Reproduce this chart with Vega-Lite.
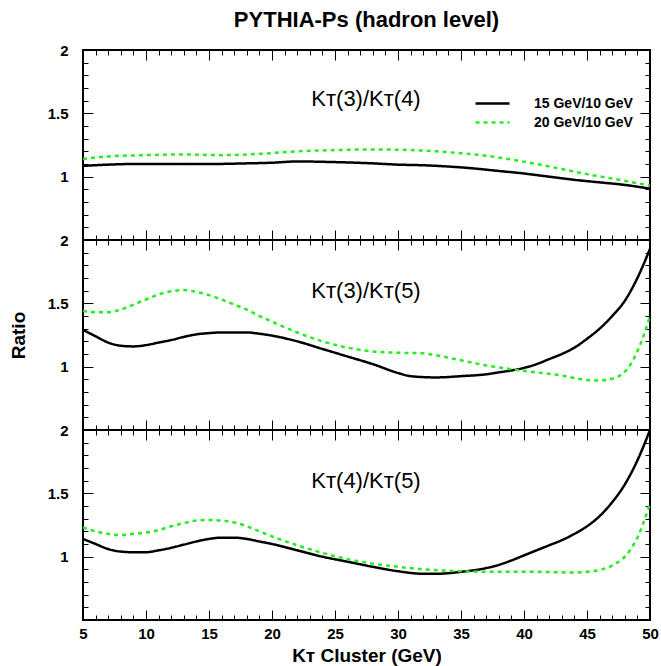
{
  "$schema": "https://vega.github.io/schema/vega-lite/v6.json",
  "padding": {"left": 8, "top": 9, "right": 5, "bottom": 0},
  "background": "white",
  "spacing": 0,
  "bounds": "flush",
  "title": {"text": "PYTHIA-Ps (hadron level)", "fontSize": 22, "font": "Liberation Sans", "fontWeight": "bold", "offset": 10, "anchor": "middle", "frame": "group", "color": "black"},
  "config": {
    "view": {"stroke": "black", "strokeWidth": 2},
    "axis": {"grid": false, "domain": false, "tickColor": "black", "tickWidth": 1, "labelFont": "Liberation Sans", "labelFontWeight": "bold", "labelFontSize": 15, "labelColor": "black", "titleFont": "Liberation Sans", "titleFontWeight": "bold", "titleFontSize": 19, "titleColor": "black", "labelFlush": false, "labelOverlap": false}
  },
  "datasets": {
    "curves": [
      {"panel": "p34", "series": "15 GeV/10 GeV", "x": 5, "y": 1.085},
      {"panel": "p34", "series": "15 GeV/10 GeV", "x": 7, "y": 1.095},
      {"panel": "p34", "series": "15 GeV/10 GeV", "x": 9, "y": 1.1},
      {"panel": "p34", "series": "15 GeV/10 GeV", "x": 12, "y": 1.1},
      {"panel": "p34", "series": "15 GeV/10 GeV", "x": 15, "y": 1.1},
      {"panel": "p34", "series": "15 GeV/10 GeV", "x": 18, "y": 1.105},
      {"panel": "p34", "series": "15 GeV/10 GeV", "x": 20, "y": 1.11},
      {"panel": "p34", "series": "15 GeV/10 GeV", "x": 22, "y": 1.12},
      {"panel": "p34", "series": "15 GeV/10 GeV", "x": 25, "y": 1.115},
      {"panel": "p34", "series": "15 GeV/10 GeV", "x": 28, "y": 1.105},
      {"panel": "p34", "series": "15 GeV/10 GeV", "x": 30, "y": 1.095},
      {"panel": "p34", "series": "15 GeV/10 GeV", "x": 32, "y": 1.09},
      {"panel": "p34", "series": "15 GeV/10 GeV", "x": 34, "y": 1.08},
      {"panel": "p34", "series": "15 GeV/10 GeV", "x": 36, "y": 1.065},
      {"panel": "p34", "series": "15 GeV/10 GeV", "x": 38, "y": 1.045},
      {"panel": "p34", "series": "15 GeV/10 GeV", "x": 40, "y": 1.025},
      {"panel": "p34", "series": "15 GeV/10 GeV", "x": 42, "y": 1.0},
      {"panel": "p34", "series": "15 GeV/10 GeV", "x": 44, "y": 0.975},
      {"panel": "p34", "series": "15 GeV/10 GeV", "x": 46, "y": 0.955},
      {"panel": "p34", "series": "15 GeV/10 GeV", "x": 48, "y": 0.935},
      {"panel": "p34", "series": "15 GeV/10 GeV", "x": 50, "y": 0.905},
      {"panel": "p34", "series": "20 GeV/10 GeV", "x": 5, "y": 1.14},
      {"panel": "p34", "series": "20 GeV/10 GeV", "x": 7, "y": 1.16},
      {"panel": "p34", "series": "20 GeV/10 GeV", "x": 10, "y": 1.17},
      {"panel": "p34", "series": "20 GeV/10 GeV", "x": 13, "y": 1.175},
      {"panel": "p34", "series": "20 GeV/10 GeV", "x": 16, "y": 1.17},
      {"panel": "p34", "series": "20 GeV/10 GeV", "x": 19, "y": 1.18},
      {"panel": "p34", "series": "20 GeV/10 GeV", "x": 22, "y": 1.2},
      {"panel": "p34", "series": "20 GeV/10 GeV", "x": 25, "y": 1.21},
      {"panel": "p34", "series": "20 GeV/10 GeV", "x": 28, "y": 1.215},
      {"panel": "p34", "series": "20 GeV/10 GeV", "x": 31, "y": 1.21},
      {"panel": "p34", "series": "20 GeV/10 GeV", "x": 33, "y": 1.2},
      {"panel": "p34", "series": "20 GeV/10 GeV", "x": 35, "y": 1.185},
      {"panel": "p34", "series": "20 GeV/10 GeV", "x": 37, "y": 1.165},
      {"panel": "p34", "series": "20 GeV/10 GeV", "x": 39, "y": 1.135},
      {"panel": "p34", "series": "20 GeV/10 GeV", "x": 41, "y": 1.1},
      {"panel": "p34", "series": "20 GeV/10 GeV", "x": 43, "y": 1.06},
      {"panel": "p34", "series": "20 GeV/10 GeV", "x": 45, "y": 1.02},
      {"panel": "p34", "series": "20 GeV/10 GeV", "x": 47, "y": 0.985},
      {"panel": "p34", "series": "20 GeV/10 GeV", "x": 50, "y": 0.93},
      {"panel": "p35", "series": "15 GeV/10 GeV", "x": 5, "y": 1.29},
      {"panel": "p35", "series": "15 GeV/10 GeV", "x": 6, "y": 1.24},
      {"panel": "p35", "series": "15 GeV/10 GeV", "x": 7, "y": 1.19},
      {"panel": "p35", "series": "15 GeV/10 GeV", "x": 8, "y": 1.165},
      {"panel": "p35", "series": "15 GeV/10 GeV", "x": 9, "y": 1.16},
      {"panel": "p35", "series": "15 GeV/10 GeV", "x": 10, "y": 1.17},
      {"panel": "p35", "series": "15 GeV/10 GeV", "x": 11, "y": 1.19},
      {"panel": "p35", "series": "15 GeV/10 GeV", "x": 12, "y": 1.21},
      {"panel": "p35", "series": "15 GeV/10 GeV", "x": 13, "y": 1.235},
      {"panel": "p35", "series": "15 GeV/10 GeV", "x": 14, "y": 1.255},
      {"panel": "p35", "series": "15 GeV/10 GeV", "x": 15, "y": 1.265},
      {"panel": "p35", "series": "15 GeV/10 GeV", "x": 16, "y": 1.27},
      {"panel": "p35", "series": "15 GeV/10 GeV", "x": 18, "y": 1.27},
      {"panel": "p35", "series": "15 GeV/10 GeV", "x": 19, "y": 1.26},
      {"panel": "p35", "series": "15 GeV/10 GeV", "x": 20, "y": 1.245},
      {"panel": "p35", "series": "15 GeV/10 GeV", "x": 22, "y": 1.2},
      {"panel": "p35", "series": "15 GeV/10 GeV", "x": 24, "y": 1.14},
      {"panel": "p35", "series": "15 GeV/10 GeV", "x": 26, "y": 1.08},
      {"panel": "p35", "series": "15 GeV/10 GeV", "x": 28, "y": 1.02},
      {"panel": "p35", "series": "15 GeV/10 GeV", "x": 30, "y": 0.95},
      {"panel": "p35", "series": "15 GeV/10 GeV", "x": 31, "y": 0.925},
      {"panel": "p35", "series": "15 GeV/10 GeV", "x": 33, "y": 0.915},
      {"panel": "p35", "series": "15 GeV/10 GeV", "x": 35, "y": 0.925},
      {"panel": "p35", "series": "15 GeV/10 GeV", "x": 37, "y": 0.94},
      {"panel": "p35", "series": "15 GeV/10 GeV", "x": 38, "y": 0.955},
      {"panel": "p35", "series": "15 GeV/10 GeV", "x": 39, "y": 0.97},
      {"panel": "p35", "series": "15 GeV/10 GeV", "x": 40, "y": 0.99},
      {"panel": "p35", "series": "15 GeV/10 GeV", "x": 41, "y": 1.02},
      {"panel": "p35", "series": "15 GeV/10 GeV", "x": 42, "y": 1.06},
      {"panel": "p35", "series": "15 GeV/10 GeV", "x": 43, "y": 1.1},
      {"panel": "p35", "series": "15 GeV/10 GeV", "x": 44, "y": 1.15},
      {"panel": "p35", "series": "15 GeV/10 GeV", "x": 45, "y": 1.22},
      {"panel": "p35", "series": "15 GeV/10 GeV", "x": 46, "y": 1.3},
      {"panel": "p35", "series": "15 GeV/10 GeV", "x": 47, "y": 1.4},
      {"panel": "p35", "series": "15 GeV/10 GeV", "x": 48, "y": 1.52},
      {"panel": "p35", "series": "15 GeV/10 GeV", "x": 49, "y": 1.7},
      {"panel": "p35", "series": "15 GeV/10 GeV", "x": 50, "y": 1.93},
      {"panel": "p35", "series": "20 GeV/10 GeV", "x": 5, "y": 1.44},
      {"panel": "p35", "series": "20 GeV/10 GeV", "x": 6, "y": 1.43},
      {"panel": "p35", "series": "20 GeV/10 GeV", "x": 7, "y": 1.43},
      {"panel": "p35", "series": "20 GeV/10 GeV", "x": 8, "y": 1.45},
      {"panel": "p35", "series": "20 GeV/10 GeV", "x": 9, "y": 1.49},
      {"panel": "p35", "series": "20 GeV/10 GeV", "x": 10, "y": 1.53},
      {"panel": "p35", "series": "20 GeV/10 GeV", "x": 11, "y": 1.57},
      {"panel": "p35", "series": "20 GeV/10 GeV", "x": 12, "y": 1.595},
      {"panel": "p35", "series": "20 GeV/10 GeV", "x": 13, "y": 1.605},
      {"panel": "p35", "series": "20 GeV/10 GeV", "x": 14, "y": 1.59},
      {"panel": "p35", "series": "20 GeV/10 GeV", "x": 15, "y": 1.565},
      {"panel": "p35", "series": "20 GeV/10 GeV", "x": 16, "y": 1.53},
      {"panel": "p35", "series": "20 GeV/10 GeV", "x": 17, "y": 1.49},
      {"panel": "p35", "series": "20 GeV/10 GeV", "x": 18, "y": 1.45},
      {"panel": "p35", "series": "20 GeV/10 GeV", "x": 19, "y": 1.4},
      {"panel": "p35", "series": "20 GeV/10 GeV", "x": 20, "y": 1.355},
      {"panel": "p35", "series": "20 GeV/10 GeV", "x": 22, "y": 1.27},
      {"panel": "p35", "series": "20 GeV/10 GeV", "x": 24, "y": 1.2},
      {"panel": "p35", "series": "20 GeV/10 GeV", "x": 26, "y": 1.15},
      {"panel": "p35", "series": "20 GeV/10 GeV", "x": 28, "y": 1.12},
      {"panel": "p35", "series": "20 GeV/10 GeV", "x": 30, "y": 1.11},
      {"panel": "p35", "series": "20 GeV/10 GeV", "x": 32, "y": 1.105},
      {"panel": "p35", "series": "20 GeV/10 GeV", "x": 33, "y": 1.09},
      {"panel": "p35", "series": "20 GeV/10 GeV", "x": 35, "y": 1.05},
      {"panel": "p35", "series": "20 GeV/10 GeV", "x": 37, "y": 1.01},
      {"panel": "p35", "series": "20 GeV/10 GeV", "x": 39, "y": 0.98},
      {"panel": "p35", "series": "20 GeV/10 GeV", "x": 41, "y": 0.955},
      {"panel": "p35", "series": "20 GeV/10 GeV", "x": 43, "y": 0.93},
      {"panel": "p35", "series": "20 GeV/10 GeV", "x": 44, "y": 0.91},
      {"panel": "p35", "series": "20 GeV/10 GeV", "x": 45, "y": 0.895},
      {"panel": "p35", "series": "20 GeV/10 GeV", "x": 46, "y": 0.89},
      {"panel": "p35", "series": "20 GeV/10 GeV", "x": 47, "y": 0.905},
      {"panel": "p35", "series": "20 GeV/10 GeV", "x": 48, "y": 0.96},
      {"panel": "p35", "series": "20 GeV/10 GeV", "x": 49, "y": 1.12},
      {"panel": "p35", "series": "20 GeV/10 GeV", "x": 50, "y": 1.4},
      {"panel": "p45", "series": "15 GeV/10 GeV", "x": 5, "y": 1.14},
      {"panel": "p45", "series": "15 GeV/10 GeV", "x": 6, "y": 1.1},
      {"panel": "p45", "series": "15 GeV/10 GeV", "x": 7, "y": 1.06},
      {"panel": "p45", "series": "15 GeV/10 GeV", "x": 8, "y": 1.04},
      {"panel": "p45", "series": "15 GeV/10 GeV", "x": 9, "y": 1.035},
      {"panel": "p45", "series": "15 GeV/10 GeV", "x": 10, "y": 1.035},
      {"panel": "p45", "series": "15 GeV/10 GeV", "x": 11, "y": 1.05},
      {"panel": "p45", "series": "15 GeV/10 GeV", "x": 12, "y": 1.07},
      {"panel": "p45", "series": "15 GeV/10 GeV", "x": 13, "y": 1.095},
      {"panel": "p45", "series": "15 GeV/10 GeV", "x": 14, "y": 1.12},
      {"panel": "p45", "series": "15 GeV/10 GeV", "x": 15, "y": 1.14},
      {"panel": "p45", "series": "15 GeV/10 GeV", "x": 16, "y": 1.15},
      {"panel": "p45", "series": "15 GeV/10 GeV", "x": 17, "y": 1.15},
      {"panel": "p45", "series": "15 GeV/10 GeV", "x": 18, "y": 1.14},
      {"panel": "p45", "series": "15 GeV/10 GeV", "x": 19, "y": 1.12},
      {"panel": "p45", "series": "15 GeV/10 GeV", "x": 20, "y": 1.1},
      {"panel": "p45", "series": "15 GeV/10 GeV", "x": 22, "y": 1.05},
      {"panel": "p45", "series": "15 GeV/10 GeV", "x": 24, "y": 1.0},
      {"panel": "p45", "series": "15 GeV/10 GeV", "x": 26, "y": 0.96},
      {"panel": "p45", "series": "15 GeV/10 GeV", "x": 28, "y": 0.92},
      {"panel": "p45", "series": "15 GeV/10 GeV", "x": 30, "y": 0.885},
      {"panel": "p45", "series": "15 GeV/10 GeV", "x": 32, "y": 0.865},
      {"panel": "p45", "series": "15 GeV/10 GeV", "x": 33, "y": 0.865},
      {"panel": "p45", "series": "15 GeV/10 GeV", "x": 35, "y": 0.88},
      {"panel": "p45", "series": "15 GeV/10 GeV", "x": 37, "y": 0.91},
      {"panel": "p45", "series": "15 GeV/10 GeV", "x": 38, "y": 0.935},
      {"panel": "p45", "series": "15 GeV/10 GeV", "x": 39, "y": 0.97},
      {"panel": "p45", "series": "15 GeV/10 GeV", "x": 40, "y": 1.01},
      {"panel": "p45", "series": "15 GeV/10 GeV", "x": 41, "y": 1.05},
      {"panel": "p45", "series": "15 GeV/10 GeV", "x": 42, "y": 1.09},
      {"panel": "p45", "series": "15 GeV/10 GeV", "x": 43, "y": 1.13},
      {"panel": "p45", "series": "15 GeV/10 GeV", "x": 44, "y": 1.18},
      {"panel": "p45", "series": "15 GeV/10 GeV", "x": 45, "y": 1.24},
      {"panel": "p45", "series": "15 GeV/10 GeV", "x": 46, "y": 1.32},
      {"panel": "p45", "series": "15 GeV/10 GeV", "x": 47, "y": 1.43},
      {"panel": "p45", "series": "15 GeV/10 GeV", "x": 48, "y": 1.57},
      {"panel": "p45", "series": "15 GeV/10 GeV", "x": 49, "y": 1.76},
      {"panel": "p45", "series": "15 GeV/10 GeV", "x": 50, "y": 2.0},
      {"panel": "p45", "series": "20 GeV/10 GeV", "x": 5, "y": 1.23},
      {"panel": "p45", "series": "20 GeV/10 GeV", "x": 6, "y": 1.2},
      {"panel": "p45", "series": "20 GeV/10 GeV", "x": 7, "y": 1.18},
      {"panel": "p45", "series": "20 GeV/10 GeV", "x": 8, "y": 1.17},
      {"panel": "p45", "series": "20 GeV/10 GeV", "x": 9, "y": 1.18},
      {"panel": "p45", "series": "20 GeV/10 GeV", "x": 10, "y": 1.19},
      {"panel": "p45", "series": "20 GeV/10 GeV", "x": 11, "y": 1.21},
      {"panel": "p45", "series": "20 GeV/10 GeV", "x": 12, "y": 1.24},
      {"panel": "p45", "series": "20 GeV/10 GeV", "x": 13, "y": 1.265},
      {"panel": "p45", "series": "20 GeV/10 GeV", "x": 14, "y": 1.285},
      {"panel": "p45", "series": "20 GeV/10 GeV", "x": 15, "y": 1.29},
      {"panel": "p45", "series": "20 GeV/10 GeV", "x": 16, "y": 1.285},
      {"panel": "p45", "series": "20 GeV/10 GeV", "x": 17, "y": 1.27},
      {"panel": "p45", "series": "20 GeV/10 GeV", "x": 18, "y": 1.24},
      {"panel": "p45", "series": "20 GeV/10 GeV", "x": 19, "y": 1.2},
      {"panel": "p45", "series": "20 GeV/10 GeV", "x": 20, "y": 1.16},
      {"panel": "p45", "series": "20 GeV/10 GeV", "x": 22, "y": 1.09},
      {"panel": "p45", "series": "20 GeV/10 GeV", "x": 24, "y": 1.03},
      {"panel": "p45", "series": "20 GeV/10 GeV", "x": 26, "y": 0.98},
      {"panel": "p45", "series": "20 GeV/10 GeV", "x": 28, "y": 0.945},
      {"panel": "p45", "series": "20 GeV/10 GeV", "x": 30, "y": 0.92},
      {"panel": "p45", "series": "20 GeV/10 GeV", "x": 32, "y": 0.9},
      {"panel": "p45", "series": "20 GeV/10 GeV", "x": 35, "y": 0.885},
      {"panel": "p45", "series": "20 GeV/10 GeV", "x": 38, "y": 0.88},
      {"panel": "p45", "series": "20 GeV/10 GeV", "x": 41, "y": 0.88},
      {"panel": "p45", "series": "20 GeV/10 GeV", "x": 44, "y": 0.875},
      {"panel": "p45", "series": "20 GeV/10 GeV", "x": 45, "y": 0.88},
      {"panel": "p45", "series": "20 GeV/10 GeV", "x": 46, "y": 0.895},
      {"panel": "p45", "series": "20 GeV/10 GeV", "x": 47, "y": 0.93},
      {"panel": "p45", "series": "20 GeV/10 GeV", "x": 48, "y": 1.0},
      {"panel": "p45", "series": "20 GeV/10 GeV", "x": 49, "y": 1.15},
      {"panel": "p45", "series": "20 GeV/10 GeV", "x": 50, "y": 1.42}
    ],
    "labels": [
      {"panel": "p34", "x": 27.46, "y": 1.615, "label": "Kᴛ(3)/Kᴛ(4)"},
      {"panel": "p35", "x": 27.46, "y": 1.6, "label": "Kᴛ(3)/Kᴛ(5)"},
      {"panel": "p45", "x": 27.46, "y": 1.6, "label": "Kᴛ(4)/Kᴛ(5)"}
    ]
  },
  "vconcat": [
    {
      "width": 567, "height": 190,
      "layer": [
        {
          "data": {"name": "curves"},
          "transform": [{"filter": "datum.panel === 'p34'"}],
          "mark": {"type": "line", "interpolate": "monotone", "strokeWidth": 2.5, "clip": true},
          "encoding": {
            "x": {"field": "x", "type": "quantitative", "scale": {"domain": [5, 50], "nice": false, "zero": false},
                  "axis": {"orient": "bottom", "title": null, "labels": false, "values": [5,6,7,8,9,10,11,12,13,14,15,16,17,18,19,20,21,22,23,24,25,26,27,28,29,30,31,32,33,34,35,36,37,38,39,40,41,42,43,44,45,46,47,48,49,50],
                           "tickSize": -10, "tickDash": {"condition": {"test": "datum.value % 5 === 0", "value": [10, 0]}, "value": [5, 100]}}},
            "y": {"field": "y", "type": "quantitative", "scale": {"domain": [0.5, 2], "nice": false, "zero": false},
                  "axis": {"orient": "left", "title": null, "values": [0.5,0.6,0.7,0.8,0.9,1,1.1,1.2,1.3,1.4,1.5,1.6,1.7,1.8,1.9,2],
                           "labelExpr": "abs(datum.value-1)<0.001 ? '1' : abs(datum.value-1.5)<0.001 ? '1.5' : abs(datum.value-2)<0.001 ? '2' : ''",
                           "labelPadding": 25, "labelBaseline": "middle",
                           "tickSize": -10, "tickDash": {"condition": {"test": "abs(datum.value*2 - round(datum.value*2)) < 0.001", "value": [10, 0]}, "value": [5, 100]}}},
            "color": {"field": "series", "type": "nominal", "scale": {"domain": ["15 GeV/10 GeV", "20 GeV/10 GeV"], "range": ["black", "#22ee22"]},
                      "legend": {"orient": "none", "legendX": 398, "legendY": 42, "title": null, "symbolType": "M-1.7,0H1.7", "symbolSize": 400, "symbolStrokeWidth": 2.5, "labelOffset": 30, "labelFont": "Liberation Sans", "labelFontWeight": "bold", "labelFontSize": 14, "labelColor": "black", "rowPadding": 0}},
            "strokeDash": {"field": "series", "type": "nominal", "scale": {"domain": ["15 GeV/10 GeV", "20 GeV/10 GeV"], "range": [[1, 0], [4, 4]]},
                      "legend": {"orient": "none", "legendX": 398, "legendY": 42, "title": null, "symbolType": "M-1.7,0H1.7", "symbolSize": 400, "symbolStrokeWidth": 2.5, "labelOffset": 30, "labelFont": "Liberation Sans", "labelFontWeight": "bold", "labelFontSize": 14, "labelColor": "black", "rowPadding": 0}}
          }
        },
        {
          "data": {"name": "labels"},
          "transform": [{"filter": "datum.panel === 'p34'"}],
          "mark": {"type": "text", "font": "Liberation Sans", "fontSize": 22, "baseline": "middle", "align": "center", "color": "black"},
          "encoding": {
            "x": {"field": "x", "type": "quantitative", "scale": {"domain": [5, 50], "nice": false, "zero": false},
                  "axis": {"orient": "top", "title": null, "labels": false, "offset": -10, "values": [5,6,7,8,9,10,11,12,13,14,15,16,17,18,19,20,21,22,23,24,25,26,27,28,29,30,31,32,33,34,35,36,37,38,39,40,41,42,43,44,45,46,47,48,49,50],
                           "tickSize": 10, "tickDash": {"condition": {"test": "datum.value % 5 === 0", "value": [10, 0]}, "value": [0, 5, 5, 100]}}},
            "y": {"field": "y", "type": "quantitative", "scale": {"domain": [0.5, 2], "nice": false, "zero": false},
                  "axis": {"orient": "right", "title": null, "labels": false, "offset": -10, "values": [0.5,0.6,0.7,0.8,0.9,1,1.1,1.2,1.3,1.4,1.5,1.6,1.7,1.8,1.9,2],
                           "tickSize": 10, "tickDash": {"condition": {"test": "abs(datum.value*2 - round(datum.value*2)) < 0.001", "value": [10, 0]}, "value": [0, 5, 5, 100]}}},
            "text": {"field": "label"}
          }
        }
      ],
      "resolve": {"axis": {"x": "independent", "y": "independent"}}
    },
    {
      "width": 567, "height": 190,
      "layer": [
        {
          "data": {"name": "curves"},
          "transform": [{"filter": "datum.panel === 'p35'"}],
          "mark": {"type": "line", "interpolate": "monotone", "strokeWidth": 2.5, "clip": true},
          "encoding": {
            "x": {"field": "x", "type": "quantitative", "scale": {"domain": [5, 50], "nice": false, "zero": false},
                  "axis": {"orient": "bottom", "title": null, "labels": false, "values": [5,6,7,8,9,10,11,12,13,14,15,16,17,18,19,20,21,22,23,24,25,26,27,28,29,30,31,32,33,34,35,36,37,38,39,40,41,42,43,44,45,46,47,48,49,50],
                           "tickSize": -10, "tickDash": {"condition": {"test": "datum.value % 5 === 0", "value": [10, 0]}, "value": [5, 100]}}},
            "y": {"field": "y", "type": "quantitative", "scale": {"domain": [0.5, 2], "nice": false, "zero": false},
                  "axis": {"orient": "left", "title": "Ratio", "titleX": -55, "values": [0.5,0.6,0.7,0.8,0.9,1,1.1,1.2,1.3,1.4,1.5,1.6,1.7,1.8,1.9,2],
                           "labelExpr": "abs(datum.value-1)<0.001 ? '1' : abs(datum.value-1.5)<0.001 ? '1.5' : abs(datum.value-2)<0.001 ? '2' : ''",
                           "labelPadding": 25, "labelBaseline": "middle",
                           "tickSize": -10, "tickDash": {"condition": {"test": "abs(datum.value*2 - round(datum.value*2)) < 0.001", "value": [10, 0]}, "value": [5, 100]}}},
            "color": {"field": "series", "type": "nominal", "scale": {"domain": ["15 GeV/10 GeV", "20 GeV/10 GeV"], "range": ["black", "#22ee22"]}, "legend": null},
            "strokeDash": {"field": "series", "type": "nominal", "scale": {"domain": ["15 GeV/10 GeV", "20 GeV/10 GeV"], "range": [[1, 0], [4, 4]]}, "legend": null}
          }
        },
        {
          "data": {"name": "labels"},
          "transform": [{"filter": "datum.panel === 'p35'"}],
          "mark": {"type": "text", "font": "Liberation Sans", "fontSize": 22, "baseline": "middle", "align": "center", "color": "black"},
          "encoding": {
            "x": {"field": "x", "type": "quantitative", "scale": {"domain": [5, 50], "nice": false, "zero": false},
                  "axis": {"orient": "top", "title": null, "labels": false, "offset": -10, "values": [5,6,7,8,9,10,11,12,13,14,15,16,17,18,19,20,21,22,23,24,25,26,27,28,29,30,31,32,33,34,35,36,37,38,39,40,41,42,43,44,45,46,47,48,49,50],
                           "tickSize": 10, "tickDash": {"condition": {"test": "datum.value % 5 === 0", "value": [10, 0]}, "value": [0, 5, 5, 100]}}},
            "y": {"field": "y", "type": "quantitative", "scale": {"domain": [0.5, 2], "nice": false, "zero": false},
                  "axis": {"orient": "right", "title": null, "labels": false, "offset": -10, "values": [0.5,0.6,0.7,0.8,0.9,1,1.1,1.2,1.3,1.4,1.5,1.6,1.7,1.8,1.9,2],
                           "tickSize": 10, "tickDash": {"condition": {"test": "abs(datum.value*2 - round(datum.value*2)) < 0.001", "value": [10, 0]}, "value": [0, 5, 5, 100]}}},
            "text": {"field": "label"}
          }
        }
      ],
      "resolve": {"axis": {"x": "independent", "y": "independent"}}
    },
    {
      "width": 567, "height": 190,
      "layer": [
        {
          "data": {"name": "curves"},
          "transform": [{"filter": "datum.panel === 'p45'"}],
          "mark": {"type": "line", "interpolate": "monotone", "strokeWidth": 2.5, "clip": true},
          "encoding": {
            "x": {"field": "x", "type": "quantitative", "scale": {"domain": [5, 50], "nice": false, "zero": false},
                  "axis": {"orient": "bottom", "title": "Kᴛ Cluster (GeV)", "titleY": 35, "titleBaseline": "middle", "values": [5,6,7,8,9,10,11,12,13,14,15,16,17,18,19,20,21,22,23,24,25,26,27,28,29,30,31,32,33,34,35,36,37,38,39,40,41,42,43,44,45,46,47,48,49,50],
                           "labelExpr": "datum.value % 5 === 0 ? datum.label : ''", "labelPadding": 23, "labelBaseline": "middle",
                           "tickSize": -10, "tickDash": {"condition": {"test": "datum.value % 5 === 0", "value": [10, 0]}, "value": [5, 100]}}},
            "y": {"field": "y", "type": "quantitative", "scale": {"domain": [0.5, 2], "nice": false, "zero": false},
                  "axis": {"orient": "left", "title": null, "values": [0.5,0.6,0.7,0.8,0.9,1,1.1,1.2,1.3,1.4,1.5,1.6,1.7,1.8,1.9,2],
                           "labelExpr": "abs(datum.value-1)<0.001 ? '1' : abs(datum.value-1.5)<0.001 ? '1.5' : abs(datum.value-2)<0.001 ? '2' : ''",
                           "labelPadding": 25, "labelBaseline": "middle",
                           "tickSize": -10, "tickDash": {"condition": {"test": "abs(datum.value*2 - round(datum.value*2)) < 0.001", "value": [10, 0]}, "value": [5, 100]}}},
            "color": {"field": "series", "type": "nominal", "scale": {"domain": ["15 GeV/10 GeV", "20 GeV/10 GeV"], "range": ["black", "#22ee22"]}, "legend": null},
            "strokeDash": {"field": "series", "type": "nominal", "scale": {"domain": ["15 GeV/10 GeV", "20 GeV/10 GeV"], "range": [[1, 0], [4, 4]]}, "legend": null}
          }
        },
        {
          "data": {"name": "labels"},
          "transform": [{"filter": "datum.panel === 'p45'"}],
          "mark": {"type": "text", "font": "Liberation Sans", "fontSize": 22, "baseline": "middle", "align": "center", "color": "black"},
          "encoding": {
            "x": {"field": "x", "type": "quantitative", "scale": {"domain": [5, 50], "nice": false, "zero": false},
                  "axis": {"orient": "top", "title": null, "labels": false, "offset": -10, "values": [5,6,7,8,9,10,11,12,13,14,15,16,17,18,19,20,21,22,23,24,25,26,27,28,29,30,31,32,33,34,35,36,37,38,39,40,41,42,43,44,45,46,47,48,49,50],
                           "tickSize": 10, "tickDash": {"condition": {"test": "datum.value % 5 === 0", "value": [10, 0]}, "value": [0, 5, 5, 100]}}},
            "y": {"field": "y", "type": "quantitative", "scale": {"domain": [0.5, 2], "nice": false, "zero": false},
                  "axis": {"orient": "right", "title": null, "labels": false, "offset": -10, "values": [0.5,0.6,0.7,0.8,0.9,1,1.1,1.2,1.3,1.4,1.5,1.6,1.7,1.8,1.9,2],
                           "tickSize": 10, "tickDash": {"condition": {"test": "abs(datum.value*2 - round(datum.value*2)) < 0.001", "value": [10, 0]}, "value": [0, 5, 5, 100]}}},
            "text": {"field": "label"}
          }
        }
      ],
      "resolve": {"axis": {"x": "independent", "y": "independent"}}
    }
  ]
}
